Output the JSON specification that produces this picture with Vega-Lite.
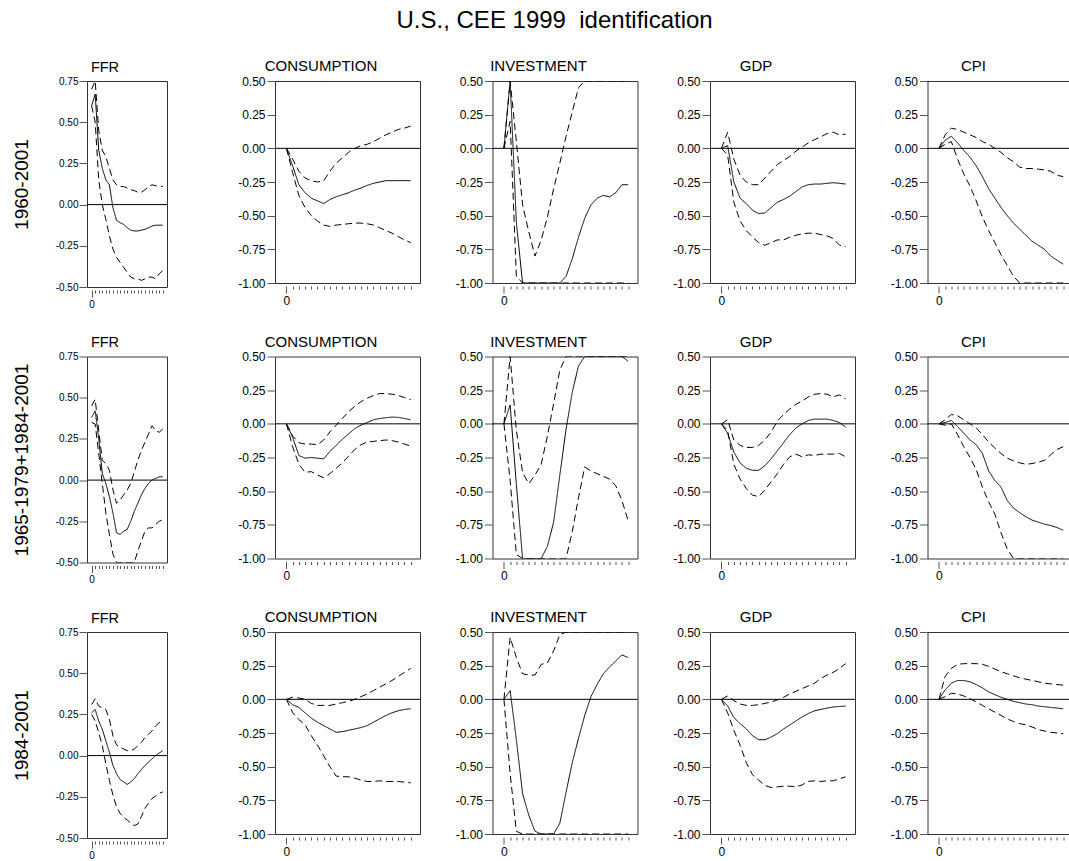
{
  "$schema": "https://vega.github.io/schema/vega-lite/v6.json",
  "title": {"text": "U.S., CEE 1999\u00a0 identification", "fontSize": 24, "anchor": "middle", "offset": 26, "dx": 12},
  "padding": {"left": 11, "top": 8, "right": -3, "bottom": 2},
  "background": "white",
  "data": {"values": [
    {"p":1,"v":"FFR","h":0,"mid":0.6,"lo":0.6,"hi":0.7},
    {"p":1,"v":"FFR","h":1,"mid":0.67,"lo":0.5,"hi":0.75},
    {"p":1,"v":"FFR","h":2,"mid":0.33,"lo":0.15,"hi":0.45},
    {"p":1,"v":"FFR","h":3,"mid":0.22,"lo":0.0,"hi":0.33},
    {"p":1,"v":"FFR","h":4,"mid":0.15,"lo":-0.09,"hi":0.29},
    {"p":1,"v":"FFR","h":5,"mid":0.12,"lo":-0.19,"hi":0.22},
    {"p":1,"v":"FFR","h":6,"mid":-0.02,"lo":-0.27,"hi":0.15},
    {"p":1,"v":"FFR","h":7,"mid":-0.095,"lo":-0.32,"hi":0.12},
    {"p":1,"v":"FFR","h":8,"mid":-0.11,"lo":-0.35,"hi":0.11},
    {"p":1,"v":"FFR","h":9,"mid":-0.12,"lo":-0.38,"hi":0.11},
    {"p":1,"v":"FFR","h":10,"mid":-0.14,"lo":-0.41,"hi":0.1},
    {"p":1,"v":"FFR","h":11,"mid":-0.155,"lo":-0.44,"hi":0.09},
    {"p":1,"v":"FFR","h":12,"mid":-0.16,"lo":-0.45,"hi":0.085},
    {"p":1,"v":"FFR","h":13,"mid":-0.16,"lo":-0.45,"hi":0.075},
    {"p":1,"v":"FFR","h":14,"mid":-0.155,"lo":-0.46,"hi":0.075},
    {"p":1,"v":"FFR","h":15,"mid":-0.15,"lo":-0.45,"hi":0.09},
    {"p":1,"v":"FFR","h":16,"mid":-0.14,"lo":-0.44,"hi":0.11},
    {"p":1,"v":"FFR","h":17,"mid":-0.13,"lo":-0.44,"hi":0.12},
    {"p":1,"v":"FFR","h":18,"mid":-0.125,"lo":-0.45,"hi":0.115},
    {"p":1,"v":"FFR","h":19,"mid":-0.125,"lo":-0.42,"hi":0.11},
    {"p":1,"v":"FFR","h":20,"mid":-0.125,"lo":-0.4,"hi":0.11},

    {"p":1,"v":"CONSUMPTION","h":0,"mid":0,"lo":0,"hi":0},
    {"p":1,"v":"CONSUMPTION","h":1,"mid":-0.13,"lo":-0.18,"hi":-0.08},
    {"p":1,"v":"CONSUMPTION","h":2,"mid":-0.27,"lo":-0.35,"hi":-0.17},
    {"p":1,"v":"CONSUMPTION","h":3,"mid":-0.33,"lo":-0.44,"hi":-0.22},
    {"p":1,"v":"CONSUMPTION","h":4,"mid":-0.37,"lo":-0.5,"hi":-0.24},
    {"p":1,"v":"CONSUMPTION","h":5,"mid":-0.39,"lo":-0.54,"hi":-0.25},
    {"p":1,"v":"CONSUMPTION","h":6,"mid":-0.41,"lo":-0.57,"hi":-0.24},
    {"p":1,"v":"CONSUMPTION","h":7,"mid":-0.38,"lo":-0.58,"hi":-0.17},
    {"p":1,"v":"CONSUMPTION","h":8,"mid":-0.36,"lo":-0.57,"hi":-0.11},
    {"p":1,"v":"CONSUMPTION","h":9,"mid":-0.345,"lo":-0.565,"hi":-0.07},
    {"p":1,"v":"CONSUMPTION","h":10,"mid":-0.33,"lo":-0.56,"hi":-0.03},
    {"p":1,"v":"CONSUMPTION","h":11,"mid":-0.31,"lo":-0.555,"hi":0.0},
    {"p":1,"v":"CONSUMPTION","h":12,"mid":-0.295,"lo":-0.555,"hi":0.02},
    {"p":1,"v":"CONSUMPTION","h":13,"mid":-0.275,"lo":-0.56,"hi":0.03},
    {"p":1,"v":"CONSUMPTION","h":14,"mid":-0.26,"lo":-0.57,"hi":0.05},
    {"p":1,"v":"CONSUMPTION","h":15,"mid":-0.25,"lo":-0.59,"hi":0.075},
    {"p":1,"v":"CONSUMPTION","h":16,"mid":-0.24,"lo":-0.61,"hi":0.1},
    {"p":1,"v":"CONSUMPTION","h":17,"mid":-0.24,"lo":-0.63,"hi":0.12},
    {"p":1,"v":"CONSUMPTION","h":18,"mid":-0.24,"lo":-0.655,"hi":0.14},
    {"p":1,"v":"CONSUMPTION","h":19,"mid":-0.24,"lo":-0.68,"hi":0.15},
    {"p":1,"v":"CONSUMPTION","h":20,"mid":-0.24,"lo":-0.7,"hi":0.165},

    {"p":1,"v":"INVESTMENT","h":0,"mid":0,"lo":0,"hi":0},
    {"p":1,"v":"INVESTMENT","h":1,"mid":0.5,"lo":0.2,"hi":0.5},
    {"p":1,"v":"INVESTMENT","h":2,"mid":-0.55,"lo":-0.95,"hi":0.05},
    {"p":1,"v":"INVESTMENT","h":3,"mid":-1,"lo":-1,"hi":-0.42},
    {"p":1,"v":"INVESTMENT","h":4,"mid":-1,"lo":-1,"hi":-0.62},
    {"p":1,"v":"INVESTMENT","h":5,"mid":-1,"lo":-1,"hi":-0.8},
    {"p":1,"v":"INVESTMENT","h":6,"mid":-1,"lo":-1,"hi":-0.68},
    {"p":1,"v":"INVESTMENT","h":7,"mid":-1,"lo":-1,"hi":-0.51},
    {"p":1,"v":"INVESTMENT","h":8,"mid":-1,"lo":-1,"hi":-0.3},
    {"p":1,"v":"INVESTMENT","h":9,"mid":-1,"lo":-1,"hi":-0.11},
    {"p":1,"v":"INVESTMENT","h":10,"mid":-0.95,"lo":-1,"hi":0.09},
    {"p":1,"v":"INVESTMENT","h":11,"mid":-0.82,"lo":-1,"hi":0.27},
    {"p":1,"v":"INVESTMENT","h":12,"mid":-0.66,"lo":-1,"hi":0.45},
    {"p":1,"v":"INVESTMENT","h":13,"mid":-0.52,"lo":-1,"hi":0.5},
    {"p":1,"v":"INVESTMENT","h":14,"mid":-0.42,"lo":-1,"hi":0.5},
    {"p":1,"v":"INVESTMENT","h":15,"mid":-0.37,"lo":-1,"hi":0.5},
    {"p":1,"v":"INVESTMENT","h":16,"mid":-0.35,"lo":-1,"hi":0.5},
    {"p":1,"v":"INVESTMENT","h":17,"mid":-0.36,"lo":-1,"hi":0.5},
    {"p":1,"v":"INVESTMENT","h":18,"mid":-0.33,"lo":-1,"hi":0.5},
    {"p":1,"v":"INVESTMENT","h":19,"mid":-0.27,"lo":-1,"hi":0.5},
    {"p":1,"v":"INVESTMENT","h":20,"mid":-0.27,"lo":-1,"hi":0.5},

    {"p":1,"v":"GDP","h":0,"mid":0,"lo":0,"hi":0},
    {"p":1,"v":"GDP","h":1,"mid":0.02,"lo":-0.05,"hi":0.12},
    {"p":1,"v":"GDP","h":2,"mid":-0.25,"lo":-0.4,"hi":-0.08},
    {"p":1,"v":"GDP","h":3,"mid":-0.37,"lo":-0.54,"hi":-0.2},
    {"p":1,"v":"GDP","h":4,"mid":-0.41,"lo":-0.61,"hi":-0.25},
    {"p":1,"v":"GDP","h":5,"mid":-0.46,"lo":-0.66,"hi":-0.27},
    {"p":1,"v":"GDP","h":6,"mid":-0.485,"lo":-0.7,"hi":-0.27},
    {"p":1,"v":"GDP","h":7,"mid":-0.48,"lo":-0.72,"hi":-0.22},
    {"p":1,"v":"GDP","h":8,"mid":-0.44,"lo":-0.7,"hi":-0.17},
    {"p":1,"v":"GDP","h":9,"mid":-0.4,"lo":-0.68,"hi":-0.12},
    {"p":1,"v":"GDP","h":10,"mid":-0.38,"lo":-0.68,"hi":-0.09},
    {"p":1,"v":"GDP","h":11,"mid":-0.355,"lo":-0.66,"hi":-0.06},
    {"p":1,"v":"GDP","h":12,"mid":-0.32,"lo":-0.645,"hi":-0.02},
    {"p":1,"v":"GDP","h":13,"mid":-0.285,"lo":-0.635,"hi":0.01},
    {"p":1,"v":"GDP","h":14,"mid":-0.27,"lo":-0.63,"hi":0.04},
    {"p":1,"v":"GDP","h":15,"mid":-0.265,"lo":-0.63,"hi":0.065},
    {"p":1,"v":"GDP","h":16,"mid":-0.265,"lo":-0.64,"hi":0.085},
    {"p":1,"v":"GDP","h":17,"mid":-0.26,"lo":-0.65,"hi":0.11},
    {"p":1,"v":"GDP","h":18,"mid":-0.255,"lo":-0.67,"hi":0.12},
    {"p":1,"v":"GDP","h":19,"mid":-0.26,"lo":-0.72,"hi":0.1},
    {"p":1,"v":"GDP","h":20,"mid":-0.265,"lo":-0.73,"hi":0.105},

    {"p":1,"v":"CPI","h":0,"mid":0,"lo":0,"hi":0},
    {"p":1,"v":"CPI","h":1,"mid":0.06,"lo":0.03,"hi":0.1},
    {"p":1,"v":"CPI","h":2,"mid":0.09,"lo":0.05,"hi":0.15},
    {"p":1,"v":"CPI","h":3,"mid":0.04,"lo":-0.08,"hi":0.14},
    {"p":1,"v":"CPI","h":4,"mid":-0.015,"lo":-0.19,"hi":0.12},
    {"p":1,"v":"CPI","h":5,"mid":-0.065,"lo":-0.28,"hi":0.1},
    {"p":1,"v":"CPI","h":6,"mid":-0.13,"lo":-0.39,"hi":0.08},
    {"p":1,"v":"CPI","h":7,"mid":-0.21,"lo":-0.51,"hi":0.05},
    {"p":1,"v":"CPI","h":8,"mid":-0.3,"lo":-0.61,"hi":0.03},
    {"p":1,"v":"CPI","h":9,"mid":-0.37,"lo":-0.7,"hi":0.0},
    {"p":1,"v":"CPI","h":10,"mid":-0.44,"lo":-0.79,"hi":-0.03},
    {"p":1,"v":"CPI","h":11,"mid":-0.5,"lo":-0.87,"hi":-0.07},
    {"p":1,"v":"CPI","h":12,"mid":-0.555,"lo":-0.95,"hi":-0.1},
    {"p":1,"v":"CPI","h":13,"mid":-0.6,"lo":-1,"hi":-0.14},
    {"p":1,"v":"CPI","h":14,"mid":-0.645,"lo":-1,"hi":-0.15},
    {"p":1,"v":"CPI","h":15,"mid":-0.69,"lo":-1,"hi":-0.15},
    {"p":1,"v":"CPI","h":16,"mid":-0.72,"lo":-1,"hi":-0.155},
    {"p":1,"v":"CPI","h":17,"mid":-0.75,"lo":-1,"hi":-0.16},
    {"p":1,"v":"CPI","h":18,"mid":-0.8,"lo":-1,"hi":-0.17},
    {"p":1,"v":"CPI","h":19,"mid":-0.83,"lo":-1,"hi":-0.2},
    {"p":1,"v":"CPI","h":20,"mid":-0.86,"lo":-1,"hi":-0.21},

    {"p":2,"v":"FFR","h":0,"mid":0.38,"lo":0.35,"hi":0.45},
    {"p":2,"v":"FFR","h":1,"mid":0.42,"lo":0.34,"hi":0.49},
    {"p":2,"v":"FFR","h":2,"mid":0.25,"lo":0.16,"hi":0.3},
    {"p":2,"v":"FFR","h":3,"mid":0.04,"lo":-0.02,"hi":0.12},
    {"p":2,"v":"FFR","h":4,"mid":-0.02,"lo":-0.2,"hi":0.1},
    {"p":2,"v":"FFR","h":5,"mid":-0.1,"lo":-0.33,"hi":0.06},
    {"p":2,"v":"FFR","h":6,"mid":-0.2,"lo":-0.45,"hi":-0.06},
    {"p":2,"v":"FFR","h":7,"mid":-0.32,"lo":-0.5,"hi":-0.14},
    {"p":2,"v":"FFR","h":8,"mid":-0.33,"lo":-0.5,"hi":-0.12},
    {"p":2,"v":"FFR","h":9,"mid":-0.31,"lo":-0.5,"hi":-0.09},
    {"p":2,"v":"FFR","h":10,"mid":-0.3,"lo":-0.5,"hi":-0.06},
    {"p":2,"v":"FFR","h":11,"mid":-0.25,"lo":-0.5,"hi":-0.02},
    {"p":2,"v":"FFR","h":12,"mid":-0.19,"lo":-0.5,"hi":0.05},
    {"p":2,"v":"FFR","h":13,"mid":-0.14,"lo":-0.43,"hi":0.12},
    {"p":2,"v":"FFR","h":14,"mid":-0.09,"lo":-0.37,"hi":0.18},
    {"p":2,"v":"FFR","h":15,"mid":-0.05,"lo":-0.31,"hi":0.23},
    {"p":2,"v":"FFR","h":16,"mid":-0.02,"lo":-0.29,"hi":0.28},
    {"p":2,"v":"FFR","h":17,"mid":0.0,"lo":-0.29,"hi":0.33},
    {"p":2,"v":"FFR","h":18,"mid":0.01,"lo":-0.27,"hi":0.3},
    {"p":2,"v":"FFR","h":19,"mid":0.02,"lo":-0.25,"hi":0.29},
    {"p":2,"v":"FFR","h":20,"mid":0.02,"lo":-0.24,"hi":0.31},

    {"p":2,"v":"CONSUMPTION","h":0,"mid":0,"lo":0,"hi":0},
    {"p":2,"v":"CONSUMPTION","h":1,"mid":-0.1,"lo":-0.17,"hi":-0.09},
    {"p":2,"v":"CONSUMPTION","h":2,"mid":-0.235,"lo":-0.3,"hi":-0.14},
    {"p":2,"v":"CONSUMPTION","h":3,"mid":-0.255,"lo":-0.36,"hi":-0.15},
    {"p":2,"v":"CONSUMPTION","h":4,"mid":-0.25,"lo":-0.355,"hi":-0.15},
    {"p":2,"v":"CONSUMPTION","h":5,"mid":-0.255,"lo":-0.38,"hi":-0.155},
    {"p":2,"v":"CONSUMPTION","h":6,"mid":-0.26,"lo":-0.4,"hi":-0.12},
    {"p":2,"v":"CONSUMPTION","h":7,"mid":-0.205,"lo":-0.37,"hi":-0.06},
    {"p":2,"v":"CONSUMPTION","h":8,"mid":-0.16,"lo":-0.33,"hi":-0.01},
    {"p":2,"v":"CONSUMPTION","h":9,"mid":-0.115,"lo":-0.29,"hi":0.04},
    {"p":2,"v":"CONSUMPTION","h":10,"mid":-0.075,"lo":-0.24,"hi":0.09},
    {"p":2,"v":"CONSUMPTION","h":11,"mid":-0.035,"lo":-0.19,"hi":0.13},
    {"p":2,"v":"CONSUMPTION","h":12,"mid":-0.01,"lo":-0.155,"hi":0.165},
    {"p":2,"v":"CONSUMPTION","h":13,"mid":0.01,"lo":-0.135,"hi":0.19},
    {"p":2,"v":"CONSUMPTION","h":14,"mid":0.03,"lo":-0.13,"hi":0.21},
    {"p":2,"v":"CONSUMPTION","h":15,"mid":0.04,"lo":-0.125,"hi":0.225},
    {"p":2,"v":"CONSUMPTION","h":16,"mid":0.045,"lo":-0.12,"hi":0.225},
    {"p":2,"v":"CONSUMPTION","h":17,"mid":0.05,"lo":-0.125,"hi":0.22},
    {"p":2,"v":"CONSUMPTION","h":18,"mid":0.048,"lo":-0.135,"hi":0.21},
    {"p":2,"v":"CONSUMPTION","h":19,"mid":0.04,"lo":-0.15,"hi":0.195},
    {"p":2,"v":"CONSUMPTION","h":20,"mid":0.03,"lo":-0.165,"hi":0.18},

    {"p":2,"v":"INVESTMENT","h":0,"mid":0,"lo":0,"hi":0},
    {"p":2,"v":"INVESTMENT","h":1,"mid":0.14,"lo":-0.42,"hi":0.5},
    {"p":2,"v":"INVESTMENT","h":2,"mid":-0.45,"lo":-0.97,"hi":-0.05},
    {"p":2,"v":"INVESTMENT","h":3,"mid":-1,"lo":-1,"hi":-0.36},
    {"p":2,"v":"INVESTMENT","h":4,"mid":-1,"lo":-1,"hi":-0.445},
    {"p":2,"v":"INVESTMENT","h":5,"mid":-1,"lo":-1,"hi":-0.38},
    {"p":2,"v":"INVESTMENT","h":6,"mid":-1,"lo":-1,"hi":-0.3},
    {"p":2,"v":"INVESTMENT","h":7,"mid":-0.91,"lo":-1,"hi":-0.09},
    {"p":2,"v":"INVESTMENT","h":8,"mid":-0.73,"lo":-1,"hi":0.15},
    {"p":2,"v":"INVESTMENT","h":9,"mid":-0.38,"lo":-1,"hi":0.4},
    {"p":2,"v":"INVESTMENT","h":10,"mid":-0.04,"lo":-1,"hi":0.5},
    {"p":2,"v":"INVESTMENT","h":11,"mid":0.235,"lo":-0.8,"hi":0.5},
    {"p":2,"v":"INVESTMENT","h":12,"mid":0.43,"lo":-0.55,"hi":0.5},
    {"p":2,"v":"INVESTMENT","h":13,"mid":0.5,"lo":-0.32,"hi":0.5},
    {"p":2,"v":"INVESTMENT","h":14,"mid":0.5,"lo":-0.35,"hi":0.5},
    {"p":2,"v":"INVESTMENT","h":15,"mid":0.5,"lo":-0.37,"hi":0.5},
    {"p":2,"v":"INVESTMENT","h":16,"mid":0.5,"lo":-0.39,"hi":0.5},
    {"p":2,"v":"INVESTMENT","h":17,"mid":0.5,"lo":-0.41,"hi":0.5},
    {"p":2,"v":"INVESTMENT","h":18,"mid":0.5,"lo":-0.46,"hi":0.5},
    {"p":2,"v":"INVESTMENT","h":19,"mid":0.5,"lo":-0.57,"hi":0.5},
    {"p":2,"v":"INVESTMENT","h":20,"mid":0.465,"lo":-0.72,"hi":0.5},

    {"p":2,"v":"GDP","h":0,"mid":0,"lo":0,"hi":0},
    {"p":2,"v":"GDP","h":1,"mid":-0.07,"lo":-0.05,"hi":0.03},
    {"p":2,"v":"GDP","h":2,"mid":-0.21,"lo":-0.3,"hi":-0.12},
    {"p":2,"v":"GDP","h":3,"mid":-0.29,"lo":-0.41,"hi":-0.16},
    {"p":2,"v":"GDP","h":4,"mid":-0.33,"lo":-0.48,"hi":-0.175},
    {"p":2,"v":"GDP","h":5,"mid":-0.345,"lo":-0.53,"hi":-0.175},
    {"p":2,"v":"GDP","h":6,"mid":-0.345,"lo":-0.54,"hi":-0.16},
    {"p":2,"v":"GDP","h":7,"mid":-0.31,"lo":-0.49,"hi":-0.12},
    {"p":2,"v":"GDP","h":8,"mid":-0.26,"lo":-0.43,"hi":-0.06},
    {"p":2,"v":"GDP","h":9,"mid":-0.2,"lo":-0.37,"hi":0.02},
    {"p":2,"v":"GDP","h":10,"mid":-0.14,"lo":-0.3,"hi":0.07},
    {"p":2,"v":"GDP","h":11,"mid":-0.08,"lo":-0.245,"hi":0.11},
    {"p":2,"v":"GDP","h":12,"mid":-0.03,"lo":-0.225,"hi":0.145},
    {"p":2,"v":"GDP","h":13,"mid":0.0,"lo":-0.245,"hi":0.17},
    {"p":2,"v":"GDP","h":14,"mid":0.025,"lo":-0.23,"hi":0.2},
    {"p":2,"v":"GDP","h":15,"mid":0.035,"lo":-0.235,"hi":0.22},
    {"p":2,"v":"GDP","h":16,"mid":0.035,"lo":-0.225,"hi":0.225},
    {"p":2,"v":"GDP","h":17,"mid":0.035,"lo":-0.225,"hi":0.22},
    {"p":2,"v":"GDP","h":18,"mid":0.025,"lo":-0.225,"hi":0.2},
    {"p":2,"v":"GDP","h":19,"mid":0.01,"lo":-0.22,"hi":0.215},
    {"p":2,"v":"GDP","h":20,"mid":-0.025,"lo":-0.245,"hi":0.185},

    {"p":2,"v":"CPI","h":0,"mid":0,"lo":0,"hi":0},
    {"p":2,"v":"CPI","h":1,"mid":0.01,"lo":-0.01,"hi":0.03},
    {"p":2,"v":"CPI","h":2,"mid":0.025,"lo":0.0,"hi":0.07},
    {"p":2,"v":"CPI","h":3,"mid":-0.02,"lo":-0.08,"hi":0.06},
    {"p":2,"v":"CPI","h":4,"mid":-0.07,"lo":-0.17,"hi":0.03},
    {"p":2,"v":"CPI","h":5,"mid":-0.12,"lo":-0.25,"hi":0.0},
    {"p":2,"v":"CPI","h":6,"mid":-0.155,"lo":-0.34,"hi":-0.03},
    {"p":2,"v":"CPI","h":7,"mid":-0.22,"lo":-0.47,"hi":-0.08},
    {"p":2,"v":"CPI","h":8,"mid":-0.35,"lo":-0.58,"hi":-0.135},
    {"p":2,"v":"CPI","h":9,"mid":-0.42,"lo":-0.67,"hi":-0.18},
    {"p":2,"v":"CPI","h":10,"mid":-0.47,"lo":-0.81,"hi":-0.22},
    {"p":2,"v":"CPI","h":11,"mid":-0.57,"lo":-0.93,"hi":-0.255},
    {"p":2,"v":"CPI","h":12,"mid":-0.625,"lo":-1,"hi":-0.275},
    {"p":2,"v":"CPI","h":13,"mid":-0.66,"lo":-1,"hi":-0.29},
    {"p":2,"v":"CPI","h":14,"mid":-0.69,"lo":-1,"hi":-0.3},
    {"p":2,"v":"CPI","h":15,"mid":-0.715,"lo":-1,"hi":-0.295},
    {"p":2,"v":"CPI","h":16,"mid":-0.73,"lo":-1,"hi":-0.285},
    {"p":2,"v":"CPI","h":17,"mid":-0.745,"lo":-1,"hi":-0.27},
    {"p":2,"v":"CPI","h":18,"mid":-0.755,"lo":-1,"hi":-0.23},
    {"p":2,"v":"CPI","h":19,"mid":-0.77,"lo":-1,"hi":-0.19},
    {"p":2,"v":"CPI","h":20,"mid":-0.79,"lo":-1,"hi":-0.17},

    {"p":3,"v":"FFR","h":0,"mid":0.26,"lo":0.25,"hi":0.31},
    {"p":3,"v":"FFR","h":1,"mid":0.28,"lo":0.21,"hi":0.345},
    {"p":3,"v":"FFR","h":2,"mid":0.21,"lo":0.14,"hi":0.3},
    {"p":3,"v":"FFR","h":3,"mid":0.16,"lo":0.06,"hi":0.29},
    {"p":3,"v":"FFR","h":4,"mid":0.09,"lo":-0.05,"hi":0.28},
    {"p":3,"v":"FFR","h":5,"mid":0.02,"lo":-0.15,"hi":0.22},
    {"p":3,"v":"FFR","h":6,"mid":-0.06,"lo":-0.24,"hi":0.12},
    {"p":3,"v":"FFR","h":7,"mid":-0.11,"lo":-0.31,"hi":0.065},
    {"p":3,"v":"FFR","h":8,"mid":-0.145,"lo":-0.35,"hi":0.05},
    {"p":3,"v":"FFR","h":9,"mid":-0.16,"lo":-0.375,"hi":0.04},
    {"p":3,"v":"FFR","h":10,"mid":-0.175,"lo":-0.39,"hi":0.03},
    {"p":3,"v":"FFR","h":11,"mid":-0.16,"lo":-0.41,"hi":0.03},
    {"p":3,"v":"FFR","h":12,"mid":-0.14,"lo":-0.425,"hi":0.04},
    {"p":3,"v":"FFR","h":13,"mid":-0.11,"lo":-0.415,"hi":0.06},
    {"p":3,"v":"FFR","h":14,"mid":-0.085,"lo":-0.37,"hi":0.08},
    {"p":3,"v":"FFR","h":15,"mid":-0.06,"lo":-0.32,"hi":0.11},
    {"p":3,"v":"FFR","h":16,"mid":-0.04,"lo":-0.29,"hi":0.13},
    {"p":3,"v":"FFR","h":17,"mid":-0.02,"lo":-0.26,"hi":0.15},
    {"p":3,"v":"FFR","h":18,"mid":0.0,"lo":-0.245,"hi":0.18},
    {"p":3,"v":"FFR","h":19,"mid":0.015,"lo":-0.23,"hi":0.2},
    {"p":3,"v":"FFR","h":20,"mid":0.03,"lo":-0.22,"hi":0.21},

    {"p":3,"v":"CONSUMPTION","h":0,"mid":0,"lo":0,"hi":0},
    {"p":3,"v":"CONSUMPTION","h":1,"mid":-0.04,"lo":-0.1,"hi":0.015},
    {"p":3,"v":"CONSUMPTION","h":2,"mid":-0.06,"lo":-0.15,"hi":0.01},
    {"p":3,"v":"CONSUMPTION","h":3,"mid":-0.1,"lo":-0.19,"hi":0.0},
    {"p":3,"v":"CONSUMPTION","h":4,"mid":-0.14,"lo":-0.27,"hi":-0.03},
    {"p":3,"v":"CONSUMPTION","h":5,"mid":-0.17,"lo":-0.34,"hi":-0.045},
    {"p":3,"v":"CONSUMPTION","h":6,"mid":-0.195,"lo":-0.42,"hi":-0.045},
    {"p":3,"v":"CONSUMPTION","h":7,"mid":-0.22,"lo":-0.5,"hi":-0.045},
    {"p":3,"v":"CONSUMPTION","h":8,"mid":-0.245,"lo":-0.57,"hi":-0.035},
    {"p":3,"v":"CONSUMPTION","h":9,"mid":-0.24,"lo":-0.575,"hi":-0.025},
    {"p":3,"v":"CONSUMPTION","h":10,"mid":-0.23,"lo":-0.575,"hi":-0.015},
    {"p":3,"v":"CONSUMPTION","h":11,"mid":-0.22,"lo":-0.585,"hi":0.0},
    {"p":3,"v":"CONSUMPTION","h":12,"mid":-0.21,"lo":-0.6,"hi":0.02},
    {"p":3,"v":"CONSUMPTION","h":13,"mid":-0.195,"lo":-0.61,"hi":0.04},
    {"p":3,"v":"CONSUMPTION","h":14,"mid":-0.17,"lo":-0.61,"hi":0.065},
    {"p":3,"v":"CONSUMPTION","h":15,"mid":-0.145,"lo":-0.605,"hi":0.09},
    {"p":3,"v":"CONSUMPTION","h":16,"mid":-0.12,"lo":-0.61,"hi":0.115},
    {"p":3,"v":"CONSUMPTION","h":17,"mid":-0.1,"lo":-0.61,"hi":0.14},
    {"p":3,"v":"CONSUMPTION","h":18,"mid":-0.085,"lo":-0.61,"hi":0.17},
    {"p":3,"v":"CONSUMPTION","h":19,"mid":-0.075,"lo":-0.615,"hi":0.2},
    {"p":3,"v":"CONSUMPTION","h":20,"mid":-0.07,"lo":-0.62,"hi":0.23},

    {"p":3,"v":"INVESTMENT","h":0,"mid":0,"lo":0,"hi":0},
    {"p":3,"v":"INVESTMENT","h":1,"mid":0.065,"lo":-0.55,"hi":0.46},
    {"p":3,"v":"INVESTMENT","h":2,"mid":-0.3,"lo":-0.98,"hi":0.31},
    {"p":3,"v":"INVESTMENT","h":3,"mid":-0.7,"lo":-1,"hi":0.19},
    {"p":3,"v":"INVESTMENT","h":4,"mid":-0.86,"lo":-1,"hi":0.18},
    {"p":3,"v":"INVESTMENT","h":5,"mid":-0.98,"lo":-1,"hi":0.18},
    {"p":3,"v":"INVESTMENT","h":6,"mid":-1,"lo":-1,"hi":0.26},
    {"p":3,"v":"INVESTMENT","h":7,"mid":-1,"lo":-1,"hi":0.27},
    {"p":3,"v":"INVESTMENT","h":8,"mid":-1,"lo":-1,"hi":0.36},
    {"p":3,"v":"INVESTMENT","h":9,"mid":-0.92,"lo":-1,"hi":0.48},
    {"p":3,"v":"INVESTMENT","h":10,"mid":-0.69,"lo":-1,"hi":0.5},
    {"p":3,"v":"INVESTMENT","h":11,"mid":-0.47,"lo":-1,"hi":0.5},
    {"p":3,"v":"INVESTMENT","h":12,"mid":-0.29,"lo":-1,"hi":0.5},
    {"p":3,"v":"INVESTMENT","h":13,"mid":-0.12,"lo":-1,"hi":0.5},
    {"p":3,"v":"INVESTMENT","h":14,"mid":0.02,"lo":-1,"hi":0.5},
    {"p":3,"v":"INVESTMENT","h":15,"mid":0.11,"lo":-1,"hi":0.5},
    {"p":3,"v":"INVESTMENT","h":16,"mid":0.19,"lo":-1,"hi":0.5},
    {"p":3,"v":"INVESTMENT","h":17,"mid":0.24,"lo":-1,"hi":0.5},
    {"p":3,"v":"INVESTMENT","h":18,"mid":0.285,"lo":-1,"hi":0.5},
    {"p":3,"v":"INVESTMENT","h":19,"mid":0.33,"lo":-1,"hi":0.5},
    {"p":3,"v":"INVESTMENT","h":20,"mid":0.31,"lo":-1,"hi":0.5},

    {"p":3,"v":"GDP","h":0,"mid":0,"lo":0,"hi":0},
    {"p":3,"v":"GDP","h":1,"mid":-0.05,"lo":-0.1,"hi":0.025},
    {"p":3,"v":"GDP","h":2,"mid":-0.135,"lo":-0.23,"hi":-0.01},
    {"p":3,"v":"GDP","h":3,"mid":-0.18,"lo":-0.34,"hi":-0.035},
    {"p":3,"v":"GDP","h":4,"mid":-0.22,"lo":-0.47,"hi":-0.045},
    {"p":3,"v":"GDP","h":5,"mid":-0.27,"lo":-0.56,"hi":-0.045},
    {"p":3,"v":"GDP","h":6,"mid":-0.3,"lo":-0.6,"hi":-0.04},
    {"p":3,"v":"GDP","h":7,"mid":-0.3,"lo":-0.64,"hi":-0.03},
    {"p":3,"v":"GDP","h":8,"mid":-0.28,"lo":-0.655,"hi":-0.02},
    {"p":3,"v":"GDP","h":9,"mid":-0.255,"lo":-0.65,"hi":-0.005},
    {"p":3,"v":"GDP","h":10,"mid":-0.22,"lo":-0.645,"hi":0.015},
    {"p":3,"v":"GDP","h":11,"mid":-0.19,"lo":-0.645,"hi":0.04},
    {"p":3,"v":"GDP","h":12,"mid":-0.16,"lo":-0.65,"hi":0.06},
    {"p":3,"v":"GDP","h":13,"mid":-0.13,"lo":-0.635,"hi":0.08},
    {"p":3,"v":"GDP","h":14,"mid":-0.105,"lo":-0.61,"hi":0.1},
    {"p":3,"v":"GDP","h":15,"mid":-0.085,"lo":-0.605,"hi":0.12},
    {"p":3,"v":"GDP","h":16,"mid":-0.075,"lo":-0.61,"hi":0.155},
    {"p":3,"v":"GDP","h":17,"mid":-0.065,"lo":-0.605,"hi":0.18},
    {"p":3,"v":"GDP","h":18,"mid":-0.057,"lo":-0.605,"hi":0.2},
    {"p":3,"v":"GDP","h":19,"mid":-0.053,"lo":-0.59,"hi":0.23},
    {"p":3,"v":"GDP","h":20,"mid":-0.05,"lo":-0.575,"hi":0.265},

    {"p":3,"v":"CPI","h":0,"mid":0,"lo":0,"hi":0},
    {"p":3,"v":"CPI","h":1,"mid":0.07,"lo":0.02,"hi":0.17},
    {"p":3,"v":"CPI","h":2,"mid":0.12,"lo":0.045,"hi":0.23},
    {"p":3,"v":"CPI","h":3,"mid":0.14,"lo":0.04,"hi":0.26},
    {"p":3,"v":"CPI","h":4,"mid":0.14,"lo":0.025,"hi":0.265},
    {"p":3,"v":"CPI","h":5,"mid":0.13,"lo":0.005,"hi":0.265},
    {"p":3,"v":"CPI","h":6,"mid":0.11,"lo":-0.02,"hi":0.265},
    {"p":3,"v":"CPI","h":7,"mid":0.085,"lo":-0.045,"hi":0.26},
    {"p":3,"v":"CPI","h":8,"mid":0.055,"lo":-0.07,"hi":0.245},
    {"p":3,"v":"CPI","h":9,"mid":0.035,"lo":-0.095,"hi":0.225},
    {"p":3,"v":"CPI","h":10,"mid":0.015,"lo":-0.12,"hi":0.205},
    {"p":3,"v":"CPI","h":11,"mid":0.0,"lo":-0.145,"hi":0.19},
    {"p":3,"v":"CPI","h":12,"mid":-0.015,"lo":-0.165,"hi":0.175},
    {"p":3,"v":"CPI","h":13,"mid":-0.025,"lo":-0.18,"hi":0.16},
    {"p":3,"v":"CPI","h":14,"mid":-0.035,"lo":-0.19,"hi":0.15},
    {"p":3,"v":"CPI","h":15,"mid":-0.04,"lo":-0.205,"hi":0.14},
    {"p":3,"v":"CPI","h":16,"mid":-0.05,"lo":-0.225,"hi":0.13},
    {"p":3,"v":"CPI","h":17,"mid":-0.055,"lo":-0.235,"hi":0.12},
    {"p":3,"v":"CPI","h":18,"mid":-0.06,"lo":-0.245,"hi":0.115},
    {"p":3,"v":"CPI","h":19,"mid":-0.065,"lo":-0.25,"hi":0.11},
    {"p":3,"v":"CPI","h":20,"mid":-0.07,"lo":-0.255,"hi":0.105}
  ]},
  "spacing": 23.5,
  "vconcat": [
    {"bounds": "flush", "spacing": 108, "hconcat": [
      {"title": {"text": "FFR", "anchor": "start", "frame": "group", "align": "center", "dx": 18, "offset": 1, "fontSize": 14.5},
       "width": 80, "height": 206,
       "transform": [{"filter": "datum.p == 1 && datum.v == 'FFR'"}],
       "layer": [
         {"transform": [{"filter": "datum.h == 0"}], "mark": {"type": "rule", "color": "black", "strokeWidth": 1}, "encoding": {"y": {"datum": 0, "type": "quantitative"}}},
         {"transform": [{"fold": ["mid", "lo", "hi"], "as": ["band", "value"]}],
          "mark": {"type": "line", "color": "black", "strokeWidth": 1, "clip": true},
          "encoding": {
            "x": {"field": "h", "type": "quantitative", "scale": {"domain": [-1.3, 21.2], "nice": false, "zero": false},
                  "axis": {"title": null, "tickCount": 21, "values": [0,1,2,3,4,5,6,7,8,9,10,11,12,13,14,15,16,17,18,19,20], "labelExpr": "datum.value == 0 ? '0' : ''", "tickSize": {"condition": {"test": "datum.value == 0", "value": 7}, "value": 3}, "offset": 3, "labelFontSize": 10, "labelPadding": 2}},
            "y": {"field": "value", "type": "quantitative", "scale": {"domain": [-0.5, 0.75], "nice": false, "zero": false, "clamp": true},
                  "axis": {"title": "1960-2001", "titleFontSize": 19, "titlePadding": 24, "tickCount": 7, "values": [-0.5,-0.25,0,0.25,0.5,0.75], "labelExpr": "replace(format(datum.value, '.2f'), '\u2212', '-')", "tickSize": 8, "labelPadding": 1, "labelFontSize": 10}},
            "strokeDash": {"field": "band", "type": "nominal", "scale": {"domain": ["mid", "lo", "hi"], "range": [[1, 0], [7, 4], [7, 4]]}, "legend": null}
          }}
       ]},
      {"bounds": "flush", "spacing": 72.5, "hconcat": [
        {"title": {"text": "CONSUMPTION", "anchor": "start", "frame": "group", "align": "center", "dx": 46, "offset": 1, "fontSize": 15},
         "width": 145, "height": 202,
         "transform": [{"filter": "datum.p == 1 && datum.v == 'CONSUMPTION'"}],
         "layer": [
           {"transform": [{"filter": "datum.h == 0"}], "mark": {"type": "rule", "color": "black", "strokeWidth": 1}, "encoding": {"y": {"datum": 0, "type": "quantitative"}}},
           {"transform": [{"fold": ["mid", "lo", "hi"], "as": ["band", "value"]}],
            "mark": {"type": "line", "color": "black", "strokeWidth": 1, "clip": true},
            "encoding": {
              "x": {"field": "h", "type": "quantitative", "scale": {"domain": [-1.84, 21.5], "nice": false, "zero": false},
                    "axis": {"title": null, "tickCount": 21, "values": [0,1,2,3,4,5,6,7,8,9,10,11,12,13,14,15,16,17,18,19,20], "labelExpr": "datum.value == 0 ? '0' : ''", "tickSize": {"condition": {"test": "datum.value == 0", "value": 7}, "value": 3}, "offset": 3, "labelFontSize": 12, "labelPadding": 2}},
              "y": {"field": "value", "type": "quantitative", "scale": {"domain": [-1, 0.5], "nice": false, "zero": false, "clamp": true},
                    "axis": {"title": null, "tickCount": 7, "values": [-1,-0.75,-0.5,-0.25,0,0.25,0.5], "labelExpr": "replace(format(datum.value, '.2f'), '\u2212', '-')", "tickSize": 8, "labelPadding": 2, "labelFontSize": 12}},
              "strokeDash": {"field": "band", "type": "nominal", "scale": {"domain": ["mid", "lo", "hi"], "range": [[1, 0], [7, 4], [7, 4]]}, "legend": null}
            }}
         ]},
        {"title": {"text": "INVESTMENT", "anchor": "start", "frame": "group", "align": "center", "dx": 46, "offset": 1, "fontSize": 15},
         "width": 145, "height": 202,
         "transform": [{"filter": "datum.p == 1 && datum.v == 'INVESTMENT'"}],
         "layer": [
           {"transform": [{"filter": "datum.h == 0"}], "mark": {"type": "rule", "color": "black", "strokeWidth": 1}, "encoding": {"y": {"datum": 0, "type": "quantitative"}}},
           {"transform": [{"fold": ["mid", "lo", "hi"], "as": ["band", "value"]}],
            "mark": {"type": "line", "color": "black", "strokeWidth": 1, "clip": true},
            "encoding": {
              "x": {"field": "h", "type": "quantitative", "scale": {"domain": [-1.84, 21.5], "nice": false, "zero": false},
                    "axis": {"title": null, "tickCount": 21, "values": [0,1,2,3,4,5,6,7,8,9,10,11,12,13,14,15,16,17,18,19,20], "labelExpr": "datum.value == 0 ? '0' : ''", "tickSize": {"condition": {"test": "datum.value == 0", "value": 7}, "value": 3}, "offset": 3, "labelFontSize": 12, "labelPadding": 2}},
              "y": {"field": "value", "type": "quantitative", "scale": {"domain": [-1, 0.5], "nice": false, "zero": false, "clamp": true},
                    "axis": {"title": null, "tickCount": 7, "values": [-1,-0.75,-0.5,-0.25,0,0.25,0.5], "labelExpr": "replace(format(datum.value, '.2f'), '\u2212', '-')", "tickSize": 8, "labelPadding": 2, "labelFontSize": 12}},
              "strokeDash": {"field": "band", "type": "nominal", "scale": {"domain": ["mid", "lo", "hi"], "range": [[1, 0], [7, 4], [7, 4]]}, "legend": null}
            }}
         ]},
        {"title": {"text": "GDP", "anchor": "start", "frame": "group", "align": "center", "dx": 46, "offset": 1, "fontSize": 15},
         "width": 145, "height": 202,
         "transform": [{"filter": "datum.p == 1 && datum.v == 'GDP'"}],
         "layer": [
           {"transform": [{"filter": "datum.h == 0"}], "mark": {"type": "rule", "color": "black", "strokeWidth": 1}, "encoding": {"y": {"datum": 0, "type": "quantitative"}}},
           {"transform": [{"fold": ["mid", "lo", "hi"], "as": ["band", "value"]}],
            "mark": {"type": "line", "color": "black", "strokeWidth": 1, "clip": true},
            "encoding": {
              "x": {"field": "h", "type": "quantitative", "scale": {"domain": [-1.84, 21.5], "nice": false, "zero": false},
                    "axis": {"title": null, "tickCount": 21, "values": [0,1,2,3,4,5,6,7,8,9,10,11,12,13,14,15,16,17,18,19,20], "labelExpr": "datum.value == 0 ? '0' : ''", "tickSize": {"condition": {"test": "datum.value == 0", "value": 7}, "value": 3}, "offset": 3, "labelFontSize": 12, "labelPadding": 2}},
              "y": {"field": "value", "type": "quantitative", "scale": {"domain": [-1, 0.5], "nice": false, "zero": false, "clamp": true},
                    "axis": {"title": null, "tickCount": 7, "values": [-1,-0.75,-0.5,-0.25,0,0.25,0.5], "labelExpr": "replace(format(datum.value, '.2f'), '\u2212', '-')", "tickSize": 8, "labelPadding": 2, "labelFontSize": 12}},
              "strokeDash": {"field": "band", "type": "nominal", "scale": {"domain": ["mid", "lo", "hi"], "range": [[1, 0], [7, 4], [7, 4]]}, "legend": null}
            }}
         ]},
        {"title": {"text": "CPI", "anchor": "start", "frame": "group", "align": "center", "dx": 46, "offset": 1, "fontSize": 15},
         "width": 145, "height": 202,
         "transform": [{"filter": "datum.p == 1 && datum.v == 'CPI'"}],
         "layer": [
           {"transform": [{"filter": "datum.h == 0"}], "mark": {"type": "rule", "color": "black", "strokeWidth": 1}, "encoding": {"y": {"datum": 0, "type": "quantitative"}}},
           {"transform": [{"fold": ["mid", "lo", "hi"], "as": ["band", "value"]}],
            "mark": {"type": "line", "color": "black", "strokeWidth": 1, "clip": true},
            "encoding": {
              "x": {"field": "h", "type": "quantitative", "scale": {"domain": [-1.84, 21.5], "nice": false, "zero": false},
                    "axis": {"title": null, "tickCount": 21, "values": [0,1,2,3,4,5,6,7,8,9,10,11,12,13,14,15,16,17,18,19,20], "labelExpr": "datum.value == 0 ? '0' : ''", "tickSize": {"condition": {"test": "datum.value == 0", "value": 7}, "value": 3}, "offset": 3, "labelFontSize": 12, "labelPadding": 2}},
              "y": {"field": "value", "type": "quantitative", "scale": {"domain": [-1, 0.5], "nice": false, "zero": false, "clamp": true},
                    "axis": {"title": null, "tickCount": 7, "values": [-1,-0.75,-0.5,-0.25,0,0.25,0.5], "labelExpr": "replace(format(datum.value, '.2f'), '\u2212', '-')", "tickSize": 8, "labelPadding": 2, "labelFontSize": 12}},
              "strokeDash": {"field": "band", "type": "nominal", "scale": {"domain": ["mid", "lo", "hi"], "range": [[1, 0], [7, 4], [7, 4]]}, "legend": null}
            }}
         ]}
      ]}
    ]},
    {"bounds": "flush", "spacing": 108, "hconcat": [
      {"title": {"text": "FFR", "anchor": "start", "frame": "group", "align": "center", "dx": 18, "offset": 1, "fontSize": 14.5},
       "width": 80, "height": 206,
       "transform": [{"filter": "datum.p == 2 && datum.v == 'FFR'"}],
       "layer": [
         {"transform": [{"filter": "datum.h == 0"}], "mark": {"type": "rule", "color": "black", "strokeWidth": 1}, "encoding": {"y": {"datum": 0, "type": "quantitative"}}},
         {"transform": [{"fold": ["mid", "lo", "hi"], "as": ["band", "value"]}],
          "mark": {"type": "line", "color": "black", "strokeWidth": 1, "clip": true},
          "encoding": {
            "x": {"field": "h", "type": "quantitative", "scale": {"domain": [-1.3, 21.2], "nice": false, "zero": false},
                  "axis": {"title": null, "tickCount": 21, "values": [0,1,2,3,4,5,6,7,8,9,10,11,12,13,14,15,16,17,18,19,20], "labelExpr": "datum.value == 0 ? '0' : ''", "tickSize": {"condition": {"test": "datum.value == 0", "value": 7}, "value": 3}, "offset": 3, "labelFontSize": 10, "labelPadding": 2}},
            "y": {"field": "value", "type": "quantitative", "scale": {"domain": [-0.5, 0.75], "nice": false, "zero": false, "clamp": true},
                  "axis": {"title": "1965-1979+1984-2001", "titleFontSize": 19, "titlePadding": 24, "tickCount": 7, "values": [-0.5,-0.25,0,0.25,0.5,0.75], "labelExpr": "replace(format(datum.value, '.2f'), '\u2212', '-')", "tickSize": 8, "labelPadding": 1, "labelFontSize": 10}},
            "strokeDash": {"field": "band", "type": "nominal", "scale": {"domain": ["mid", "lo", "hi"], "range": [[1, 0], [7, 4], [7, 4]]}, "legend": null}
          }}
       ]},
      {"bounds": "flush", "spacing": 72.5, "hconcat": [
        {"title": {"text": "CONSUMPTION", "anchor": "start", "frame": "group", "align": "center", "dx": 46, "offset": 1, "fontSize": 15},
         "width": 145, "height": 202,
         "transform": [{"filter": "datum.p == 2 && datum.v == 'CONSUMPTION'"}],
         "layer": [
           {"transform": [{"filter": "datum.h == 0"}], "mark": {"type": "rule", "color": "black", "strokeWidth": 1}, "encoding": {"y": {"datum": 0, "type": "quantitative"}}},
           {"transform": [{"fold": ["mid", "lo", "hi"], "as": ["band", "value"]}],
            "mark": {"type": "line", "color": "black", "strokeWidth": 1, "clip": true},
            "encoding": {
              "x": {"field": "h", "type": "quantitative", "scale": {"domain": [-1.84, 21.5], "nice": false, "zero": false},
                    "axis": {"title": null, "tickCount": 21, "values": [0,1,2,3,4,5,6,7,8,9,10,11,12,13,14,15,16,17,18,19,20], "labelExpr": "datum.value == 0 ? '0' : ''", "tickSize": {"condition": {"test": "datum.value == 0", "value": 7}, "value": 3}, "offset": 3, "labelFontSize": 12, "labelPadding": 2}},
              "y": {"field": "value", "type": "quantitative", "scale": {"domain": [-1, 0.5], "nice": false, "zero": false, "clamp": true},
                    "axis": {"title": null, "tickCount": 7, "values": [-1,-0.75,-0.5,-0.25,0,0.25,0.5], "labelExpr": "replace(format(datum.value, '.2f'), '\u2212', '-')", "tickSize": 8, "labelPadding": 2, "labelFontSize": 12}},
              "strokeDash": {"field": "band", "type": "nominal", "scale": {"domain": ["mid", "lo", "hi"], "range": [[1, 0], [7, 4], [7, 4]]}, "legend": null}
            }}
         ]},
        {"title": {"text": "INVESTMENT", "anchor": "start", "frame": "group", "align": "center", "dx": 46, "offset": 1, "fontSize": 15},
         "width": 145, "height": 202,
         "transform": [{"filter": "datum.p == 2 && datum.v == 'INVESTMENT'"}],
         "layer": [
           {"transform": [{"filter": "datum.h == 0"}], "mark": {"type": "rule", "color": "black", "strokeWidth": 1}, "encoding": {"y": {"datum": 0, "type": "quantitative"}}},
           {"transform": [{"fold": ["mid", "lo", "hi"], "as": ["band", "value"]}],
            "mark": {"type": "line", "color": "black", "strokeWidth": 1, "clip": true},
            "encoding": {
              "x": {"field": "h", "type": "quantitative", "scale": {"domain": [-1.84, 21.5], "nice": false, "zero": false},
                    "axis": {"title": null, "tickCount": 21, "values": [0,1,2,3,4,5,6,7,8,9,10,11,12,13,14,15,16,17,18,19,20], "labelExpr": "datum.value == 0 ? '0' : ''", "tickSize": {"condition": {"test": "datum.value == 0", "value": 7}, "value": 3}, "offset": 3, "labelFontSize": 12, "labelPadding": 2}},
              "y": {"field": "value", "type": "quantitative", "scale": {"domain": [-1, 0.5], "nice": false, "zero": false, "clamp": true},
                    "axis": {"title": null, "tickCount": 7, "values": [-1,-0.75,-0.5,-0.25,0,0.25,0.5], "labelExpr": "replace(format(datum.value, '.2f'), '\u2212', '-')", "tickSize": 8, "labelPadding": 2, "labelFontSize": 12}},
              "strokeDash": {"field": "band", "type": "nominal", "scale": {"domain": ["mid", "lo", "hi"], "range": [[1, 0], [7, 4], [7, 4]]}, "legend": null}
            }}
         ]},
        {"title": {"text": "GDP", "anchor": "start", "frame": "group", "align": "center", "dx": 46, "offset": 1, "fontSize": 15},
         "width": 145, "height": 202,
         "transform": [{"filter": "datum.p == 2 && datum.v == 'GDP'"}],
         "layer": [
           {"transform": [{"filter": "datum.h == 0"}], "mark": {"type": "rule", "color": "black", "strokeWidth": 1}, "encoding": {"y": {"datum": 0, "type": "quantitative"}}},
           {"transform": [{"fold": ["mid", "lo", "hi"], "as": ["band", "value"]}],
            "mark": {"type": "line", "color": "black", "strokeWidth": 1, "clip": true},
            "encoding": {
              "x": {"field": "h", "type": "quantitative", "scale": {"domain": [-1.84, 21.5], "nice": false, "zero": false},
                    "axis": {"title": null, "tickCount": 21, "values": [0,1,2,3,4,5,6,7,8,9,10,11,12,13,14,15,16,17,18,19,20], "labelExpr": "datum.value == 0 ? '0' : ''", "tickSize": {"condition": {"test": "datum.value == 0", "value": 7}, "value": 3}, "offset": 3, "labelFontSize": 12, "labelPadding": 2}},
              "y": {"field": "value", "type": "quantitative", "scale": {"domain": [-1, 0.5], "nice": false, "zero": false, "clamp": true},
                    "axis": {"title": null, "tickCount": 7, "values": [-1,-0.75,-0.5,-0.25,0,0.25,0.5], "labelExpr": "replace(format(datum.value, '.2f'), '\u2212', '-')", "tickSize": 8, "labelPadding": 2, "labelFontSize": 12}},
              "strokeDash": {"field": "band", "type": "nominal", "scale": {"domain": ["mid", "lo", "hi"], "range": [[1, 0], [7, 4], [7, 4]]}, "legend": null}
            }}
         ]},
        {"title": {"text": "CPI", "anchor": "start", "frame": "group", "align": "center", "dx": 46, "offset": 1, "fontSize": 15},
         "width": 145, "height": 202,
         "transform": [{"filter": "datum.p == 2 && datum.v == 'CPI'"}],
         "layer": [
           {"transform": [{"filter": "datum.h == 0"}], "mark": {"type": "rule", "color": "black", "strokeWidth": 1}, "encoding": {"y": {"datum": 0, "type": "quantitative"}}},
           {"transform": [{"fold": ["mid", "lo", "hi"], "as": ["band", "value"]}],
            "mark": {"type": "line", "color": "black", "strokeWidth": 1, "clip": true},
            "encoding": {
              "x": {"field": "h", "type": "quantitative", "scale": {"domain": [-1.84, 21.5], "nice": false, "zero": false},
                    "axis": {"title": null, "tickCount": 21, "values": [0,1,2,3,4,5,6,7,8,9,10,11,12,13,14,15,16,17,18,19,20], "labelExpr": "datum.value == 0 ? '0' : ''", "tickSize": {"condition": {"test": "datum.value == 0", "value": 7}, "value": 3}, "offset": 3, "labelFontSize": 12, "labelPadding": 2}},
              "y": {"field": "value", "type": "quantitative", "scale": {"domain": [-1, 0.5], "nice": false, "zero": false, "clamp": true},
                    "axis": {"title": null, "tickCount": 7, "values": [-1,-0.75,-0.5,-0.25,0,0.25,0.5], "labelExpr": "replace(format(datum.value, '.2f'), '\u2212', '-')", "tickSize": 8, "labelPadding": 2, "labelFontSize": 12}},
              "strokeDash": {"field": "band", "type": "nominal", "scale": {"domain": ["mid", "lo", "hi"], "range": [[1, 0], [7, 4], [7, 4]]}, "legend": null}
            }}
         ]}
      ]}
    ]},
    {"bounds": "flush", "spacing": 108, "hconcat": [
      {"title": {"text": "FFR", "anchor": "start", "frame": "group", "align": "center", "dx": 18, "offset": 1, "fontSize": 14.5},
       "width": 80, "height": 206,
       "transform": [{"filter": "datum.p == 3 && datum.v == 'FFR'"}],
       "layer": [
         {"transform": [{"filter": "datum.h == 0"}], "mark": {"type": "rule", "color": "black", "strokeWidth": 1}, "encoding": {"y": {"datum": 0, "type": "quantitative"}}},
         {"transform": [{"fold": ["mid", "lo", "hi"], "as": ["band", "value"]}],
          "mark": {"type": "line", "color": "black", "strokeWidth": 1, "clip": true},
          "encoding": {
            "x": {"field": "h", "type": "quantitative", "scale": {"domain": [-1.3, 21.2], "nice": false, "zero": false},
                  "axis": {"title": null, "tickCount": 21, "values": [0,1,2,3,4,5,6,7,8,9,10,11,12,13,14,15,16,17,18,19,20], "labelExpr": "datum.value == 0 ? '0' : ''", "tickSize": {"condition": {"test": "datum.value == 0", "value": 7}, "value": 3}, "offset": 3, "labelFontSize": 10, "labelPadding": 2}},
            "y": {"field": "value", "type": "quantitative", "scale": {"domain": [-0.5, 0.75], "nice": false, "zero": false, "clamp": true},
                  "axis": {"title": "1984-2001", "titleFontSize": 19, "titlePadding": 24, "tickCount": 7, "values": [-0.5,-0.25,0,0.25,0.5,0.75], "labelExpr": "replace(format(datum.value, '.2f'), '\u2212', '-')", "tickSize": 8, "labelPadding": 1, "labelFontSize": 10}},
            "strokeDash": {"field": "band", "type": "nominal", "scale": {"domain": ["mid", "lo", "hi"], "range": [[1, 0], [7, 4], [7, 4]]}, "legend": null}
          }}
       ]},
      {"bounds": "flush", "spacing": 72.5, "hconcat": [
        {"title": {"text": "CONSUMPTION", "anchor": "start", "frame": "group", "align": "center", "dx": 46, "offset": 1, "fontSize": 15},
         "width": 145, "height": 202,
         "transform": [{"filter": "datum.p == 3 && datum.v == 'CONSUMPTION'"}],
         "layer": [
           {"transform": [{"filter": "datum.h == 0"}], "mark": {"type": "rule", "color": "black", "strokeWidth": 1}, "encoding": {"y": {"datum": 0, "type": "quantitative"}}},
           {"transform": [{"fold": ["mid", "lo", "hi"], "as": ["band", "value"]}],
            "mark": {"type": "line", "color": "black", "strokeWidth": 1, "clip": true},
            "encoding": {
              "x": {"field": "h", "type": "quantitative", "scale": {"domain": [-1.84, 21.5], "nice": false, "zero": false},
                    "axis": {"title": null, "tickCount": 21, "values": [0,1,2,3,4,5,6,7,8,9,10,11,12,13,14,15,16,17,18,19,20], "labelExpr": "datum.value == 0 ? '0' : ''", "tickSize": {"condition": {"test": "datum.value == 0", "value": 7}, "value": 3}, "offset": 3, "labelFontSize": 12, "labelPadding": 2}},
              "y": {"field": "value", "type": "quantitative", "scale": {"domain": [-1, 0.5], "nice": false, "zero": false, "clamp": true},
                    "axis": {"title": null, "tickCount": 7, "values": [-1,-0.75,-0.5,-0.25,0,0.25,0.5], "labelExpr": "replace(format(datum.value, '.2f'), '\u2212', '-')", "tickSize": 8, "labelPadding": 2, "labelFontSize": 12}},
              "strokeDash": {"field": "band", "type": "nominal", "scale": {"domain": ["mid", "lo", "hi"], "range": [[1, 0], [7, 4], [7, 4]]}, "legend": null}
            }}
         ]},
        {"title": {"text": "INVESTMENT", "anchor": "start", "frame": "group", "align": "center", "dx": 46, "offset": 1, "fontSize": 15},
         "width": 145, "height": 202,
         "transform": [{"filter": "datum.p == 3 && datum.v == 'INVESTMENT'"}],
         "layer": [
           {"transform": [{"filter": "datum.h == 0"}], "mark": {"type": "rule", "color": "black", "strokeWidth": 1}, "encoding": {"y": {"datum": 0, "type": "quantitative"}}},
           {"transform": [{"fold": ["mid", "lo", "hi"], "as": ["band", "value"]}],
            "mark": {"type": "line", "color": "black", "strokeWidth": 1, "clip": true},
            "encoding": {
              "x": {"field": "h", "type": "quantitative", "scale": {"domain": [-1.84, 21.5], "nice": false, "zero": false},
                    "axis": {"title": null, "tickCount": 21, "values": [0,1,2,3,4,5,6,7,8,9,10,11,12,13,14,15,16,17,18,19,20], "labelExpr": "datum.value == 0 ? '0' : ''", "tickSize": {"condition": {"test": "datum.value == 0", "value": 7}, "value": 3}, "offset": 3, "labelFontSize": 12, "labelPadding": 2}},
              "y": {"field": "value", "type": "quantitative", "scale": {"domain": [-1, 0.5], "nice": false, "zero": false, "clamp": true},
                    "axis": {"title": null, "tickCount": 7, "values": [-1,-0.75,-0.5,-0.25,0,0.25,0.5], "labelExpr": "replace(format(datum.value, '.2f'), '\u2212', '-')", "tickSize": 8, "labelPadding": 2, "labelFontSize": 12}},
              "strokeDash": {"field": "band", "type": "nominal", "scale": {"domain": ["mid", "lo", "hi"], "range": [[1, 0], [7, 4], [7, 4]]}, "legend": null}
            }}
         ]},
        {"title": {"text": "GDP", "anchor": "start", "frame": "group", "align": "center", "dx": 46, "offset": 1, "fontSize": 15},
         "width": 145, "height": 202,
         "transform": [{"filter": "datum.p == 3 && datum.v == 'GDP'"}],
         "layer": [
           {"transform": [{"filter": "datum.h == 0"}], "mark": {"type": "rule", "color": "black", "strokeWidth": 1}, "encoding": {"y": {"datum": 0, "type": "quantitative"}}},
           {"transform": [{"fold": ["mid", "lo", "hi"], "as": ["band", "value"]}],
            "mark": {"type": "line", "color": "black", "strokeWidth": 1, "clip": true},
            "encoding": {
              "x": {"field": "h", "type": "quantitative", "scale": {"domain": [-1.84, 21.5], "nice": false, "zero": false},
                    "axis": {"title": null, "tickCount": 21, "values": [0,1,2,3,4,5,6,7,8,9,10,11,12,13,14,15,16,17,18,19,20], "labelExpr": "datum.value == 0 ? '0' : ''", "tickSize": {"condition": {"test": "datum.value == 0", "value": 7}, "value": 3}, "offset": 3, "labelFontSize": 12, "labelPadding": 2}},
              "y": {"field": "value", "type": "quantitative", "scale": {"domain": [-1, 0.5], "nice": false, "zero": false, "clamp": true},
                    "axis": {"title": null, "tickCount": 7, "values": [-1,-0.75,-0.5,-0.25,0,0.25,0.5], "labelExpr": "replace(format(datum.value, '.2f'), '\u2212', '-')", "tickSize": 8, "labelPadding": 2, "labelFontSize": 12}},
              "strokeDash": {"field": "band", "type": "nominal", "scale": {"domain": ["mid", "lo", "hi"], "range": [[1, 0], [7, 4], [7, 4]]}, "legend": null}
            }}
         ]},
        {"title": {"text": "CPI", "anchor": "start", "frame": "group", "align": "center", "dx": 46, "offset": 1, "fontSize": 15},
         "width": 145, "height": 202,
         "transform": [{"filter": "datum.p == 3 && datum.v == 'CPI'"}],
         "layer": [
           {"transform": [{"filter": "datum.h == 0"}], "mark": {"type": "rule", "color": "black", "strokeWidth": 1}, "encoding": {"y": {"datum": 0, "type": "quantitative"}}},
           {"transform": [{"fold": ["mid", "lo", "hi"], "as": ["band", "value"]}],
            "mark": {"type": "line", "color": "black", "strokeWidth": 1, "clip": true},
            "encoding": {
              "x": {"field": "h", "type": "quantitative", "scale": {"domain": [-1.84, 21.5], "nice": false, "zero": false},
                    "axis": {"title": null, "tickCount": 21, "values": [0,1,2,3,4,5,6,7,8,9,10,11,12,13,14,15,16,17,18,19,20], "labelExpr": "datum.value == 0 ? '0' : ''", "tickSize": {"condition": {"test": "datum.value == 0", "value": 7}, "value": 3}, "offset": 3, "labelFontSize": 12, "labelPadding": 2}},
              "y": {"field": "value", "type": "quantitative", "scale": {"domain": [-1, 0.5], "nice": false, "zero": false, "clamp": true},
                    "axis": {"title": null, "tickCount": 7, "values": [-1,-0.75,-0.5,-0.25,0,0.25,0.5], "labelExpr": "replace(format(datum.value, '.2f'), '\u2212', '-')", "tickSize": 8, "labelPadding": 2, "labelFontSize": 12}},
              "strokeDash": {"field": "band", "type": "nominal", "scale": {"domain": ["mid", "lo", "hi"], "range": [[1, 0], [7, 4], [7, 4]]}, "legend": null}
            }}
         ]}
      ]}
    ]}
  ],
  "config": {
    "font": "Liberation Sans",
    "view": {"stroke": "#333", "strokeWidth": 1},
    "axis": {"domain": false, "grid": false, "labelColor": "#000", "tickColor": "#555", "labelFont": "Liberation Sans", "titleFont": "Liberation Sans", "titleFontWeight": "normal", "titleColor": "#000", "labelFlush": false, "labelOverlap": false},
    "title": {"font": "Liberation Sans", "fontWeight": "normal", "color": "#000"}
  }
}
